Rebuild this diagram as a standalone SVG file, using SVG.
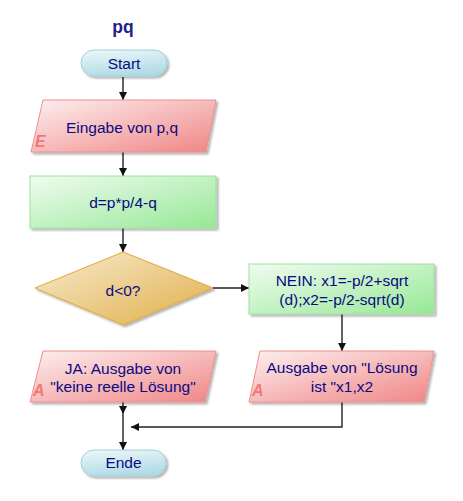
<svg xmlns="http://www.w3.org/2000/svg" width="463" height="501" viewBox="0 0 463 501">
<defs>
<linearGradient id="gT" x1="0" y1="0" x2="0.3" y2="1"><stop offset="0" stop-color="#eef8fb"/><stop offset="1" stop-color="#b3dbe6"/></linearGradient>
<linearGradient id="gIO" x1="0" y1="0" x2="1" y2="1"><stop offset="0" stop-color="#fdf0f0"/><stop offset="1" stop-color="#f08585"/></linearGradient>
<linearGradient id="gP" x1="0" y1="0" x2="1" y2="1"><stop offset="0" stop-color="#f0fcf0"/><stop offset="1" stop-color="#96e896"/></linearGradient>
<linearGradient id="gD" x1="0" y1="0" x2="1" y2="1"><stop offset="0" stop-color="#f8ecd0"/><stop offset="1" stop-color="#e0ae48"/></linearGradient>
<filter id="sh" x="-10%" y="-10%" width="130%" height="140%"><feDropShadow dx="2" dy="2" stdDeviation="1" flood-color="#000" flood-opacity="0.3"/></filter>
<marker id="ah" markerUnits="userSpaceOnUse" markerWidth="9" markerHeight="9" refX="8" refY="4" orient="auto"><path d="M0,0 L8,4 L0,8 z" fill="#111"/></marker>
</defs>
<style>
.t{font-family:"Liberation Sans",Arial,sans-serif;font-size:15.5px;fill:#0a0a82;text-anchor:middle}
.ttl{font-family:"Liberation Sans",Arial,sans-serif;font-size:17.5px;font-weight:bold;fill:#1e1e8c;text-anchor:middle}
.lbl{font-family:"Liberation Sans",Arial,sans-serif;font-size:16px;font-weight:bold;font-style:italic;fill:#f07878}
.term{fill:url(#gT);stroke:#9fcfdc;stroke-width:1;filter:url(#sh)}
.io{fill:url(#gIO);stroke:#ee8e8e;stroke-width:1;filter:url(#sh)}
.proc{fill:url(#gP);stroke:#9ee09e;stroke-width:1;filter:url(#sh)}
.dec{fill:url(#gD);stroke:#e0a838;stroke-width:1;filter:url(#sh)}
.c{fill:none;stroke:#222;stroke-width:1.4}
</style>
<text class="ttl" x="123" y="33">pq</text>
<g id="connectors">
<path class="c" d="M123,77 L123,100" marker-end="url(#ah)"/>
<path class="c" d="M123,152 L123,176" marker-end="url(#ah)"/>
<path class="c" d="M123,228 L123,252" marker-end="url(#ah)"/>
<path class="c" d="M213,288 L249,288" marker-end="url(#ah)"/>
<path class="c" d="M342,314 L342,351" marker-end="url(#ah)"/>
<path class="c" d="M123,402 L123,414" marker-end="url(#ah)"/>
<path class="c" d="M123,414 L123,450" marker-end="url(#ah)"/>
<path class="c" d="M342,402 L342,427 L131,427" marker-end="url(#ah)"/>
</g>
<g id="start">
<rect class="term" x="81" y="50" width="86" height="26" rx="13"/>
<text class="t" x="124" y="68.5">Start</text>
</g>
<g id="input">
<polygon class="io" points="43,100 216,100 206,152 31,152"/>
<text class="t" x="122" y="132.5">Eingabe von p,q</text>
<text class="lbl" x="35" y="147">E</text>
</g>
<g id="calc">
<rect class="proc" x="30" y="176" width="186" height="52"/>
<text class="t" x="123" y="208">d=p*p/4-q</text>
</g>
<g id="decision">
<polygon class="dec" points="123,252 213,288 123,325 35,288"/>
<text class="t" x="123" y="295.5">d&lt;0?</text>
</g>
<g id="nein">
<rect class="proc" x="249" y="264" width="185" height="50"/>
<text class="t" x="342" y="286">NEIN: x1=-p/2+sqrt</text>
<text class="t" x="342" y="305">(d);x2=-p/2-sqrt(d)</text>
</g>
<g id="ja">
<polygon class="io" points="43,351 216,351 205,402 30,402"/>
<text class="t" x="123" y="374">JA: Ausgabe von</text>
<text class="t" x="123" y="392">"keine reelle Lösung"</text>
<text class="lbl" x="33" y="396">A</text>
</g>
<g id="output">
<polygon class="io" points="260,351 434,351 424,402 249,402"/>
<text class="t" x="342" y="373">Ausgabe von "Lösung</text>
<text class="t" x="342" y="391.5">ist "x1,x2</text>
<text class="lbl" x="252" y="396">A</text>
</g>
<g id="ende">
<rect class="term" x="81" y="450" width="85" height="26" rx="13"/>
<text class="t" x="123.5" y="468">Ende</text>
</g>
</svg>
